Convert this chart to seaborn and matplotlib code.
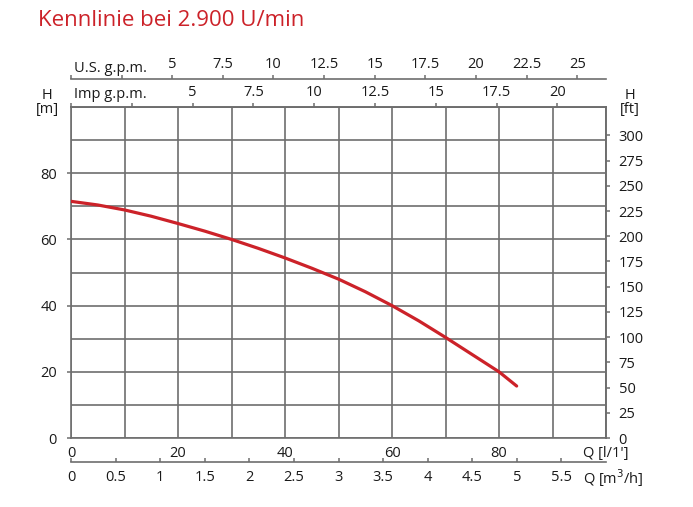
import seaborn as sns
from matplotlib import pyplot as plt
from matplotlib.ticker import MultipleLocator, FixedLocator

# pump curve: flow in l/min, head in m
flow_lpm = [0, 5, 10, 15, 20, 25, 30, 35, 40, 45, 50, 55, 60, 65, 70, 75, 80, 83.3]
head_m = [71.5, 70.4, 68.9, 67.0, 64.8, 62.5, 60.0, 57.3, 54.4, 51.3, 48.0, 44.2,
          40.0, 35.4, 30.4, 25.2, 20.0, 15.7]

lpm_ticks = [0, 20, 40, 60, 80]
m_ticks = [0, 20, 40, 60, 80]
us_gpm_ticks = [0, 2.5, 5, 7.5, 10, 12.5, 15, 17.5, 20, 22.5, 25]
us_gpm_labels = ["", "", "5", "7.5", "10", "12.5", "15", "17.5", "20", "22.5", "25"]
imp_gpm_ticks = [0, 2.5, 5, 7.5, 10, 12.5, 15, 17.5, 20]
imp_gpm_labels = ["", "", "5", "7.5", "10", "12.5", "15", "17.5", "20"]
m3h_ticks = [0, 0.5, 1, 1.5, 2, 2.5, 3, 3.5, 4, 4.5, 5, 5.5]
m3h_labels = ["0", "0.5", "1", "1.5", "2", "2.5", "3", "3.5", "4", "4.5", "5", "5.5"]
ft_ticks = [0, 25, 50, 75, 100, 125, 150, 175, 200, 225, 250, 275, 300]

title = "Kennlinie bei 2.900 U/min"

sns.set_style("white")
plt.rcParams["font.family"] = ["Open Sans", "DejaVu Sans"]

RED = "#cc2229"
GRID = "#6e6e6e"
TXT = "#1a1a1a"
FS = 10.5

fig = plt.figure(figsize=(6.93, 5.07), dpi=100)
ax = fig.add_axes([71 / 693, 69 / 507, 535 / 693, 331 / 507])

sns.lineplot(x=flow_lpm, y=head_m, ax=ax, color=RED, lw=2.3, zorder=5)

ax.set_xlim(0, 100)
ax.set_ylim(0, 100)
ax.xaxis.set_major_locator(FixedLocator(lpm_ticks))
ax.xaxis.set_minor_locator(MultipleLocator(10))
ax.yaxis.set_major_locator(FixedLocator(m_ticks))
ax.yaxis.set_minor_locator(MultipleLocator(10))
ax.grid(which="both", color=GRID, lw=1.2)
for s in ax.spines.values():
    s.set_color(GRID)
    s.set_linewidth(1.2)
ax.tick_params(axis="x", which="both", length=0, pad=6, labelsize=FS, colors=TXT)
ax.tick_params(axis="y", which="major", length=3, width=1.1, color=GRID, pad=7,
               labelsize=FS, labelcolor=TXT, left=True)
ax.tick_params(axis="y", which="minor", length=0)

# Imp g.p.m. on the top edge
imp = ax.secondary_xaxis("top", functions=(lambda q: q / 4.546, lambda g: g * 4.546))
imp.xaxis.set_major_locator(FixedLocator(imp_gpm_ticks))
imp.set_xticklabels(imp_gpm_labels)
imp.tick_params(length=3, width=1.1, color=GRID, pad=2, labelsize=FS, labelcolor=TXT)
imp.spines["top"].set_color(GRID)
imp.spines["top"].set_linewidth(1.2)

# U.S. g.p.m. above it
us = ax.secondary_xaxis((438 - 79) / 331, functions=(lambda q: q / 3.785, lambda g: g * 3.785))
us.xaxis.set_major_locator(FixedLocator(us_gpm_ticks))
us.set_xticklabels(us_gpm_labels)
us.tick_params(length=3, width=1.1, color=GRID, pad=2, labelsize=FS, labelcolor=TXT)
us.spines["top"].set_color(GRID)
us.spines["top"].set_linewidth(1.2)

# m3/h below
m3h = ax.secondary_xaxis((438 - 462) / 331, functions=(lambda q: q * 0.06, lambda v: v / 0.06))
m3h.xaxis.set_major_locator(FixedLocator(m3h_ticks))
m3h.set_xticklabels(m3h_labels)
m3h.tick_params(direction="in", length=3, width=1.1, color=GRID, pad=6, labelsize=FS,
                labelcolor=TXT)
m3h.spines["bottom"].set_color(GRID)
m3h.spines["bottom"].set_linewidth(1.2)

# head in feet on the right
ft = ax.secondary_yaxis("right", functions=(lambda h: h / 0.3048, lambda f: f * 0.3048))
ft.yaxis.set_major_locator(FixedLocator(ft_ticks))
ft.tick_params(length=3, width=1.1, color=GRID, pad=6, labelsize=FS, labelcolor=TXT)
ft.spines["right"].set_color(GRID)
ft.spines["right"].set_linewidth(1.2)

# axis captions
ax.text(0.006, (438 - 68) / 331, "U.S. g.p.m.", transform=ax.transAxes, ha="left",
        va="center", fontsize=FS, color=TXT)
ax.text(0.006, (438 - 95) / 331, "Imp g.p.m.", transform=ax.transAxes, ha="left",
        va="center", fontsize=FS, color=TXT)
fig.text(47 / 693, 1 - 95 / 507, "H", ha="center", va="center", fontsize=FS, color=TXT)
fig.text(47 / 693, 1 - 110 / 507, "[m]", ha="center", va="center", fontsize=FS, color=TXT)
fig.text(630 / 693, 1 - 95 / 507, "H", ha="center", va="center", fontsize=FS, color=TXT)
fig.text(630 / 693, 1 - 110 / 507, "[ft]", ha="center", va="center", fontsize=FS, color=TXT)
fig.text(583 / 693, 1 - 454 / 507, "Q [l/1']", ha="left", va="center", fontsize=FS, color=TXT)
fig.text(583 / 693, 1 - 478 / 507, "Q [m$^3$/h]", ha="left", va="center", fontsize=FS,
         color=TXT)

fig.text(38 / 693, 1 - 20 / 507, title, ha="left", va="center", fontsize=16, color=RED)

fig.savefig("out.png", dpi=100)
